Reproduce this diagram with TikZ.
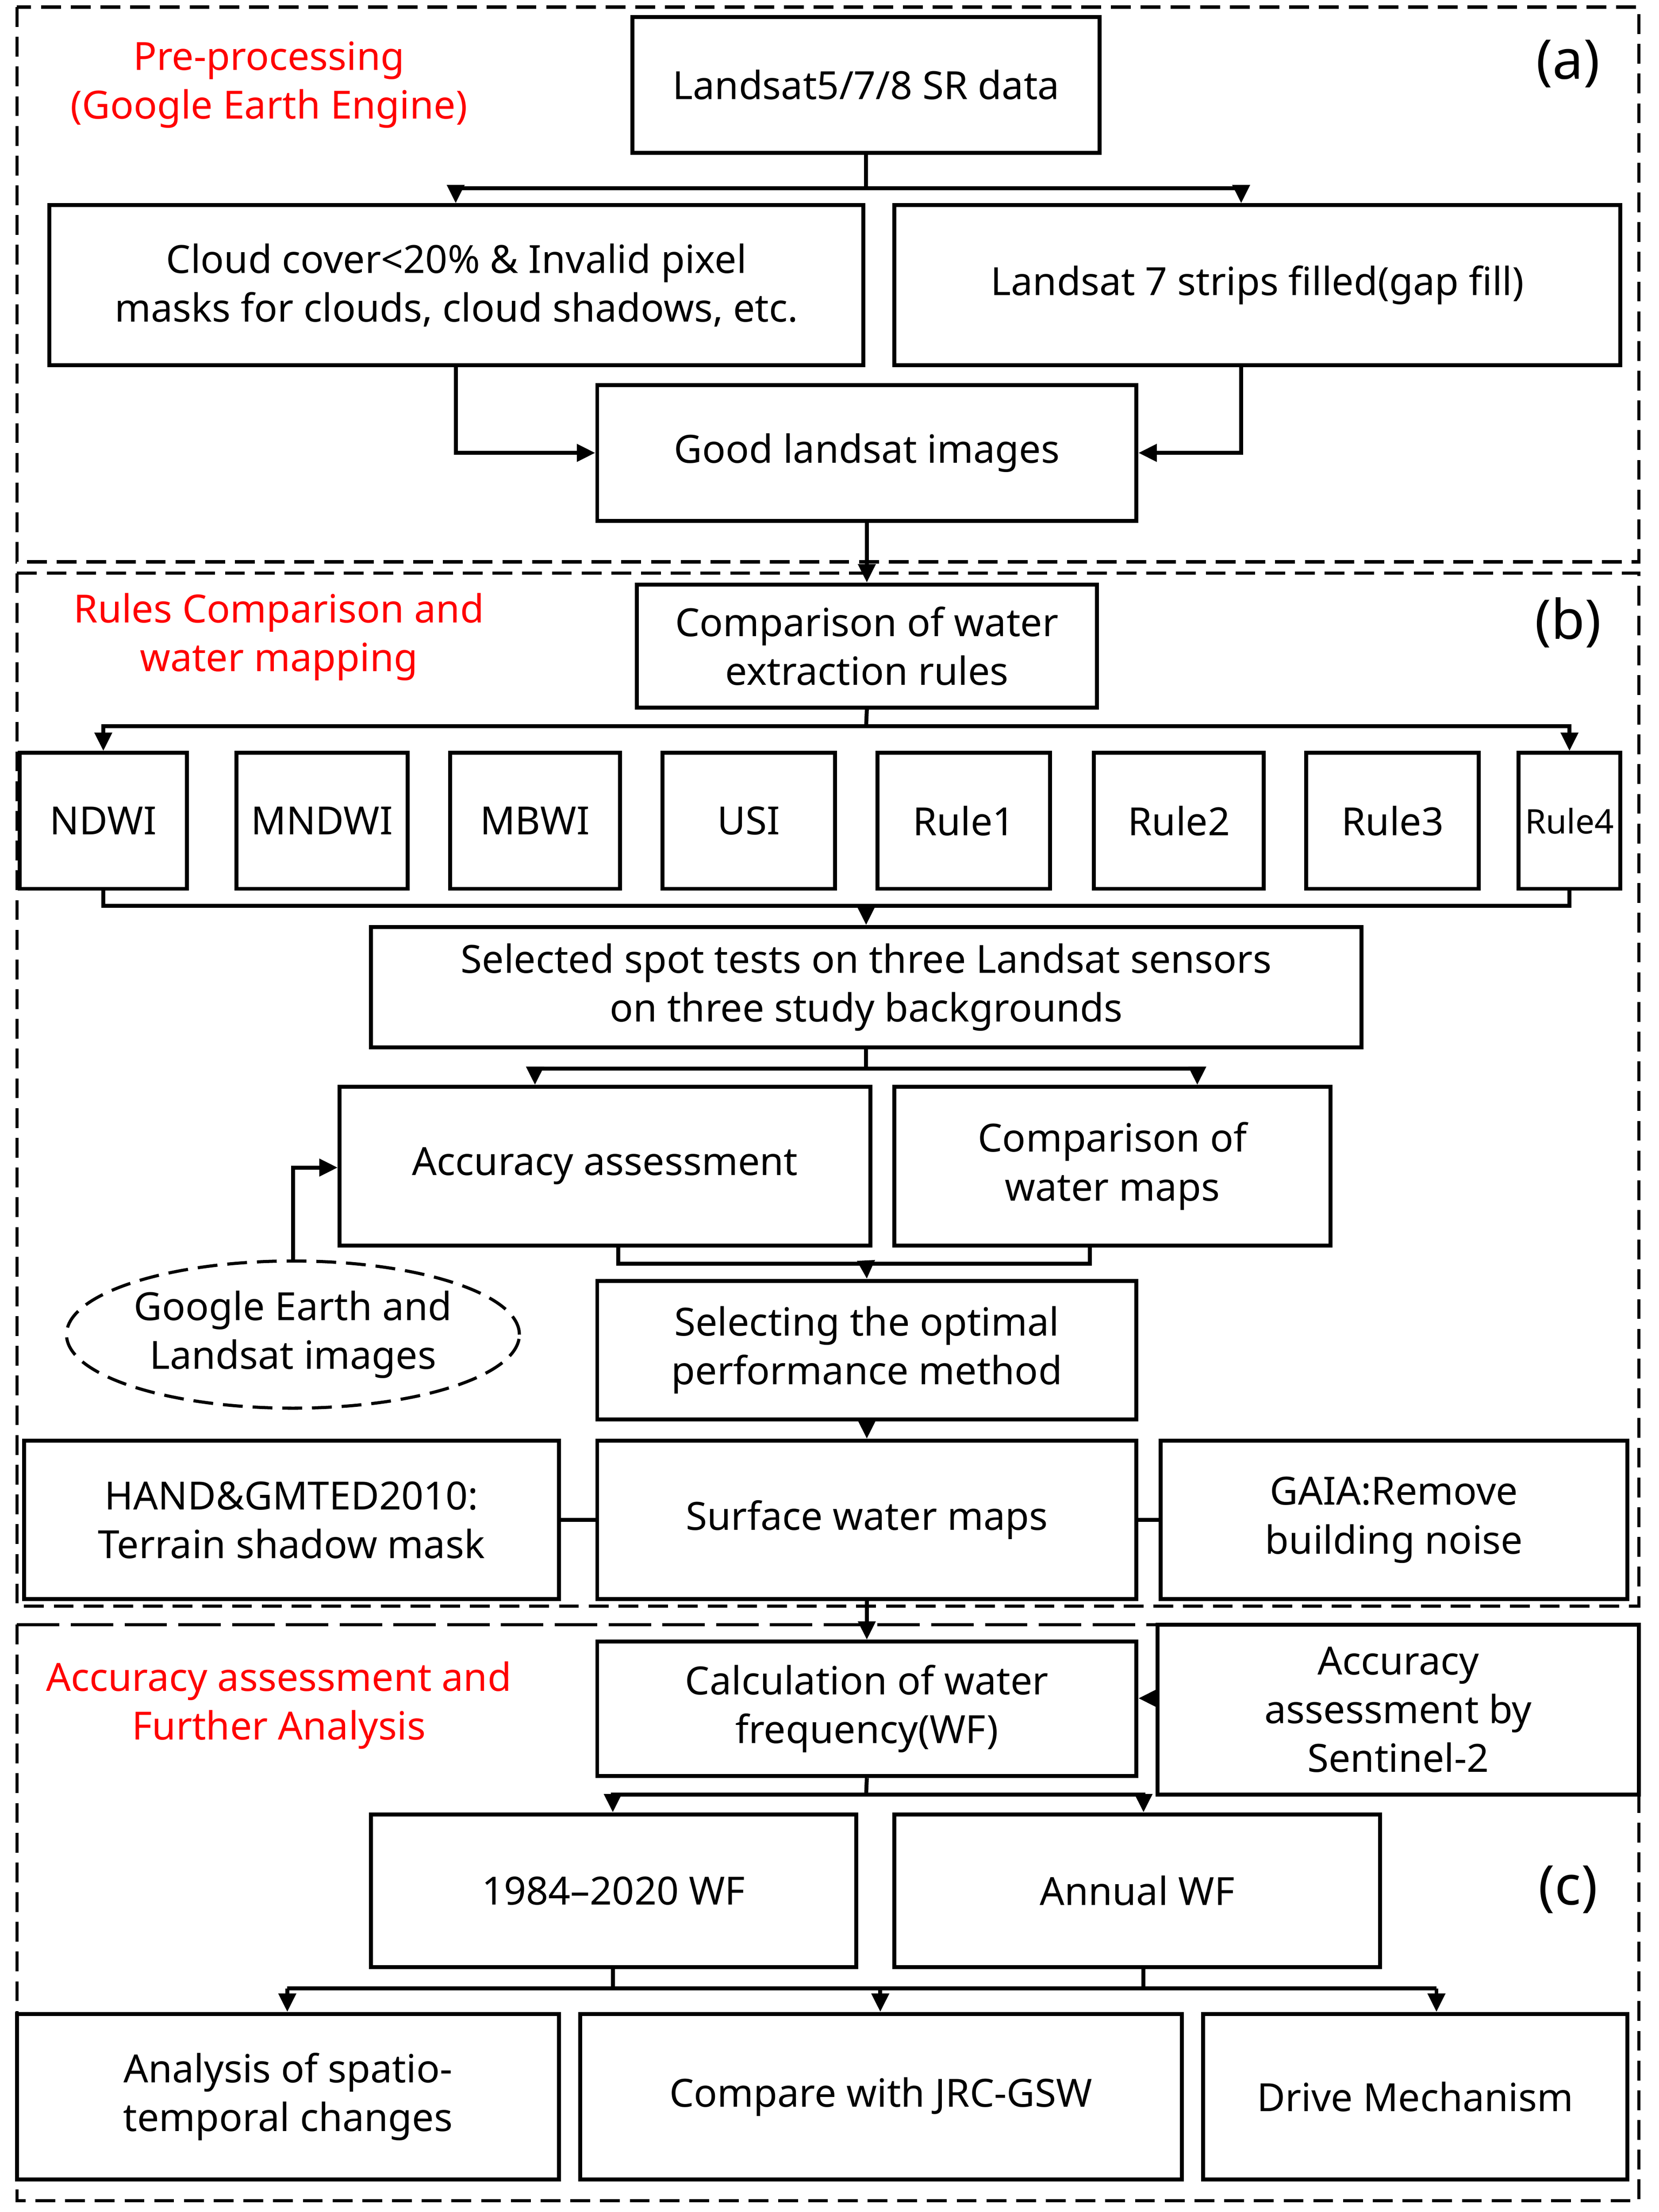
\documentclass[tikz,border=0pt]{standalone}
\usepackage{fontspec}
\setmainfont{Noto Sans}
\usetikzlibrary{arrows.meta,shapes.geometric}
\begin{document}
\begin{tikzpicture}[x=1mm,y=-1mm,
  every node/.style={font=\fontsize{78}{98}\selectfont},
  bx/.style={draw,line width=2.8mm,align=center,inner sep=0},
  ln/.style={line width=2.8mm},
  ar/.style={line width=2.8mm,-{Triangle[length=13mm,width=12mm]}},
  pan/.style={line width=2.2mm,dash pattern=on 14mm off 7mm},
  red/.style={text=red,align=center},
  tag/.style={font=\fontsize{110}{130}\selectfont}]
\useasboundingbox (0,0) rectangle (1172,1563);
\newcommand{\bxx}[6]{\node[bx,minimum width=#4mm-#2mm,minimum height=#5mm-#3mm] (#1) at ({(#2+#4)/2},{(#3+#5)/2}) {#6};}
% panels
\draw[pan] (12,5) rectangle (1158,397);
\draw[pan] (12,405) rectangle (1158,1135);
\draw[line width=2.2mm,dash pattern=on 30mm off 8mm] (12,1148) -- (1158,1148);
\draw[pan] (12,1148) -- (12,1555) -- (1158,1555) -- (1158,1148);
\node[red] (la) at (190,60) {Pre-processing\\(Google Earth Engine)};
\node[tag] (ta) at (1108,45) {(a)};
\node[red] (lb) at (197,450) {Rules Comparison and\\water mapping};
\node[tag] (tb) at (1108,440) {(b)};
\node[red] (lc) at (197,1205) {Accuracy assessment and\\Further Analysis};
\node[tag] (tc) at (1108,1335) {(c)};
% (a)
\bxx{ls}{447}{12}{777}{108}{Landsat5/7/8 SR data}
\bxx{cl}{35}{145}{610}{258}{Cloud cover<20\% \& Invalid pixel\\masks for clouds, cloud shadows, etc.}
\bxx{l7}{632}{145}{1145}{258}{Landsat 7 strips filled(gap fill)}
\bxx{gd}{422}{272}{803}{368}{Good landsat images}
\coordinate (a1) at (612,133);
\draw[ln] (ls.south) -- (a1);
\draw[ar] (a1) -| (cl.north -| 322,0);
\draw[ar] (a1) -| (l7.north -| 877,0);
\draw[ar] (cl.south -| 322,0) |- (gd.west);
\draw[ar] (l7.south -| 877,0) |- (gd.east);
% (b)
\bxx{cm}{450}{413}{775}{500}{Comparison of water\\extraction rules}
\draw[ar] (gd.south) -- (cm.north);
\bxx{r1}{14}{532}{132}{628}{NDWI}
\bxx{r2}{167}{532}{288}{628}{MNDWI}
\bxx{r3}{318}{532}{438}{628}{MBWI}
\bxx{r4}{468}{532}{590}{628}{USI}
\bxx{r5}{620}{532}{742}{628}{Rule1}
\bxx{r6}{773}{532}{893}{628}{Rule2}
\bxx{r7}{923}{532}{1045}{628}{Rule3}
\node[bx,minimum width=72mm,minimum height=96mm,font=\fontsize{68}{80}\selectfont] (r8) at (1109,580) {Rule4};
\coordinate (b1) at (612,513);
\draw[ln] (cm.south) -- (b1);
\draw[ar] (b1) -| (r1.north);
\draw[ar] (b1) -| (r8.north);
\bxx{sel}{262}{655}{962}{740}{Selected spot tests on three Landsat sensors\\on three study backgrounds}
\coordinate (b2) at (612,640);
\draw[ln] (r1.south) |- (b2) -| (r8.south);
\draw[ar] (b2) -- (sel.north);
\bxx{acc}{240}{768}{615}{880}{Accuracy assessment}
\bxx{cw}{632}{768}{940}{880}{Comparison of\\water maps}
\coordinate (b3) at (612,755);
\draw[ln] (sel.south) -- (b3);
\draw[ar] (b3) -| (acc.north -| 378,0);
\draw[ar] (b3) -| (cw.north -| 846,0);
\bxx{opt}{422}{905}{803}{1003}{Selecting the optimal\\performance method}
\coordinate (b4) at (612,893);
\draw[ln] (acc.south -| 437,0) |- (b4) -| (cw.south -| 770,0);
\draw[ar] (b4) -- (opt.north);
\node[draw,line width=2.2mm,dash pattern=on 14mm off 7mm,ellipse,minimum width=320mm,minimum height=104mm,inner sep=0,align=center] (ge) at (207,943) {Google Earth and\\Landsat images};
\draw[ar] (ge.north) |- (acc.west |- 0,825);
\bxx{sw}{422}{1018}{803}{1130}{Surface water maps}
\bxx{hd}{17}{1018}{395}{1130}{HAND\&GMTED2010:\\Terrain shadow mask}
\bxx{ga}{820}{1018}{1150}{1130}{GAIA:Remove\\building noise}
\draw[ar] (opt.south) -- (sw.north);
\draw[ln] (hd.east) -- (sw.west);
\draw[ln] (ga.west) -- (sw.east);
% (c)
\bxx{cf}{422}{1160}{803}{1255}{Calculation of water\\frequency(WF)}
\bxx{s2}{818}{1148}{1158}{1268}{Accuracy\\assessment by\\Sentinel-2}
\draw[ar] (sw.south) -- (cf.north);
\draw[ar] (s2.west |- 0,1200) -- (cf.east |- 0,1200);
\bxx{wf1}{262}{1282}{605}{1390}{1984--2020 WF}
\bxx{wf2}{632}{1282}{975}{1390}{Annual WF}
\coordinate (c1) at (612,1268);
\draw[ln] (cf.south) -- (c1);
\draw[ar] (c1) -| (wf1.north -| 433,0);
\draw[ar] (c1) -| (wf2.north -| 808,0);
\bxx{an}{12}{1423}{395}{1540}{Analysis of spatio-\\temporal changes}
\bxx{jr}{410}{1423}{835}{1540}{Compare with JRC-GSW}
\bxx{dm}{850}{1423}{1150}{1540}{Drive Mechanism}
\coordinate (c2) at (622,1405);
\draw[ln] (wf1.south -| 433,0) |- (c2) -| (wf2.south -| 808,0);
\draw[ar] (203,1405) -- (an.north -| 203,0);
\draw[ln] (203,1405) -- (1015,1405);
\draw[ar] (c2) -- (jr.north -| 622,0);
\draw[ar] (1015,1405) -- (dm.north -| 1015,0);
\end{tikzpicture}
\end{document}
